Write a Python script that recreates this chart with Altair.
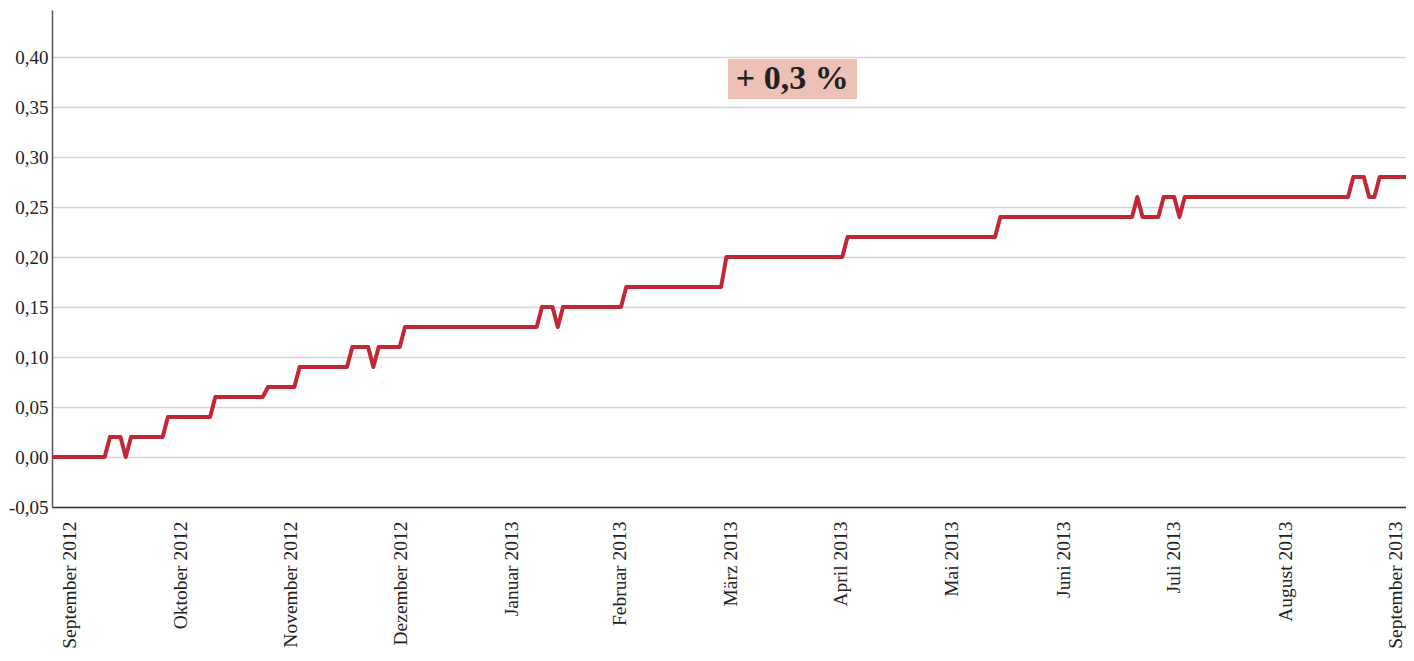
import altair as alt
import pandas as pd

# Series vertices (trading-day index, cumulative change in %)
day_index = [0, 10, 11, 13, 14, 15, 21, 22, 30, 31,
             40, 41, 46, 47, 56, 57, 60, 61, 62, 66,
             67, 92, 93, 95, 96, 97, 108, 109, 127, 128,
             150, 151, 179, 180, 205, 206, 207, 210, 211, 213,
             214, 215, 246, 247, 249, 250, 251, 252, 257]
values = [0.00, 0.00, 0.02, 0.02, 0.00, 0.02, 0.02, 0.04, 0.04, 0.06,
          0.06, 0.07, 0.07, 0.09, 0.09, 0.11, 0.11, 0.09, 0.11, 0.11,
          0.13, 0.13, 0.15, 0.15, 0.13, 0.15, 0.15, 0.17, 0.17, 0.20,
          0.20, 0.22, 0.22, 0.24, 0.24, 0.26, 0.24, 0.24, 0.26, 0.26,
          0.24, 0.26, 0.26, 0.28, 0.28, 0.26, 0.26, 0.28, 0.28]

# X tick labels and their positions on the index axis
month_labels = ["September 2012", "Oktober 2012", "November 2012", "Dezember 2012",
                "Januar 2013", "Februar 2013", "März 2013", "April 2013", "Mai 2013",
                "Juni 2013", "Juli 2013", "August 2013", "September 2013"]
month_positions = [3.4, 24.3, 45.2, 66.1, 87.3, 107.8, 128.7, 149.6, 170.8,
                   191.9, 212.8, 234.1, 255.0]

y_ticks = [-0.05, 0.0, 0.05, 0.10, 0.15, 0.20, 0.25, 0.30, 0.35, 0.40]

annotation_text = ["+ 0,3 %"]

FONT = "Liberation Serif"
RED = "#c22735"

df = pd.DataFrame({"tag": day_index, "wert": values})

pos_js = "[" + ",".join(str(p) for p in month_positions) + "]"
lab_js = "[" + ",".join("'" + m + "'" for m in month_labels) + "]"
x_label_expr = f"{lab_js}[indexof({pos_js}, datum.value)]"
y_label_expr = "replace(replace(format(datum.value, '.2f'), '.', ','), '\u2212', '-')"

x_scale = alt.Scale(domain=[0, 257], nice=False, zero=False)
y_scale = alt.Scale(domain=[-0.05, 0.447], nice=False, zero=False)

line = alt.Chart(df).mark_line(color=RED, strokeWidth=4, strokeJoin="round", strokeCap="butt").encode(
    x=alt.X("tag:Q", scale=x_scale, title=None,
            axis=alt.Axis(values=month_positions, labelExpr=x_label_expr, labelAngle=270,
                          labelAlign="right", labelBaseline="middle",
                          ticks=False, grid=False, labelPadding=14,
                          domainColor="#333333", domainWidth=1.5,
                          labelFont=FONT, labelFontSize=19.5, labelColor="#222222",
                          labelOverlap=False, labelBound=False, labelFlush=False)),
    y=alt.Y("wert:Q", scale=y_scale, title=None,
            axis=alt.Axis(values=y_ticks, labelExpr=y_label_expr, ticks=False,
                          grid=True, gridColor="#d6d6d6", gridWidth=1.5,
                          domainColor="#555555", domainWidth=1.5, labelPadding=4,
                          labelFont=FONT, labelFontSize=19, labelColor="#222222",
                          labelOverlap=False, labelFlush=False)),
)

ann_df = pd.DataFrame({"x1": [128.3], "x2": [152.8], "y1": [0.398], "y2": [0.358],
                       "xm": [140.5], "ym": [0.378], "label": annotation_text})

box = alt.Chart(ann_df).mark_rect(color="#edc1b6").encode(
    x=alt.X("x1:Q", scale=x_scale), x2="x2:Q",
    y=alt.Y("y1:Q", scale=y_scale), y2="y2:Q",
)
txt = alt.Chart(ann_df).mark_text(font=FONT, fontSize=34, fontWeight="bold", color="#222222",
                                  align="center", baseline="middle").encode(
    x=alt.X("xm:Q", scale=x_scale), y=alt.Y("ym:Q", scale=y_scale), text="label:N"
)

chart = alt.layer(line, box, txt).properties(
    width=1354, height=497,
    autosize=alt.AutoSizeParams(type="none"),
    padding={"left": 44, "top": 2, "right": 0, "bottom": 146},
).configure(background="white").configure_view(stroke=None)

chart.save("out.html", embed_options={"renderer": "svg", "actions": False})
